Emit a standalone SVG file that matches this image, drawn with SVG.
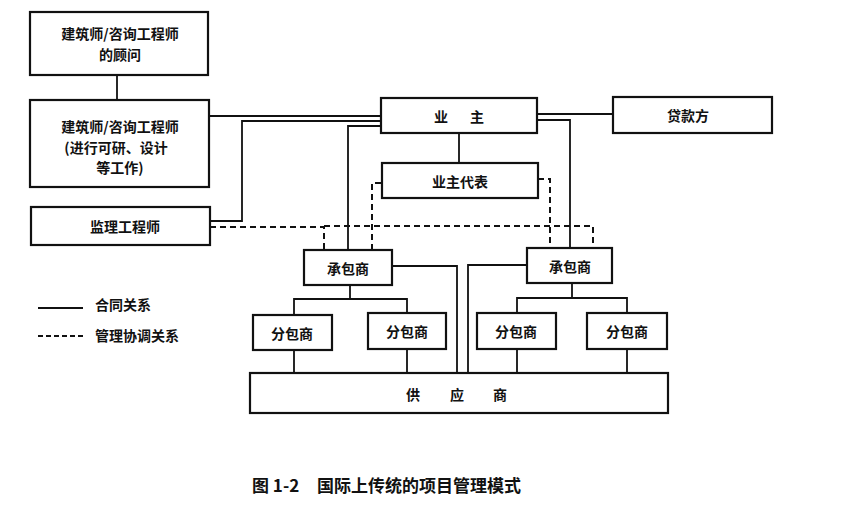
<svg xmlns="http://www.w3.org/2000/svg" width="844" height="506" viewBox="0 0 844 506">
<style>
.box{fill:#fff;stroke:#111;stroke-width:2.2}
.ln{fill:none;stroke:#111;stroke-width:1.8}
.ds{fill:none;stroke:#111;stroke-width:2;stroke-dasharray:6 4}
text{font-family:"Noto Sans CJK SC","Noto Sans CJK JP",sans-serif;font-weight:bold;font-size:14px;fill:#111;text-anchor:middle;dominant-baseline:central}
.lg{text-anchor:start}
.cap{font-size:17px;text-anchor:start}
</style>
<rect width="844" height="506" fill="#fff"/>
<g id="connectors">
<path class="ln" d="M117 75V100"/>
<path class="ln" d="M209 116H381"/>
<path class="ln" d="M210 221H242V121H381"/>
<path class="ln" d="M348 250V126H381"/>
<path class="ln" d="M537 114H613"/>
<path class="ln" d="M537 120H570V248"/>
<path class="ln" d="M459 133V163"/>
<path class="ds" d="M210 227H324V250"/>
<path class="ds" d="M324 226H593V248"/>
<path class="ds" d="M381 183H372V250"/>
<path class="ds" d="M538 179H550V248"/>
<path class="ln" d="M392 266H457V373"/>
<path class="ln" d="M527 265H468V373"/>
<path class="ln" d="M350 285V299M294 315V299H407V313"/>
<path class="ln" d="M572 283V298M517 313V298H627V313"/>
<path class="ln" d="M294 350V373M407 349V373M517 349V373M627 349V373"/>
</g>
<g id="n-adviser"><rect class="box" x="30" y="12" width="178" height="63"/><text x="120" y="33">建筑师/咨询工程师</text><text x="120" y="54">的顾问</text></g>
<g id="n-architect"><rect class="box" x="30" y="100" width="179" height="87"/><text x="120" y="126">建筑师/咨询工程师</text><text x="116" y="147">(进行可研、设计</text><text x="120" y="167">等工作)</text></g>
<g id="n-supervisor"><rect class="box" x="31" y="207" width="179" height="38"/><text x="125" y="226">监理工程师</text></g>
<g id="n-owner"><rect class="box" x="381" y="98" width="156" height="35"/><text x="441 477" y="116">业主</text></g>
<g id="n-lender"><rect class="box" x="613" y="97" width="159" height="36"/><text x="688" y="115">贷款方</text></g>
<g id="n-ownerrep"><rect class="box" x="382" y="163" width="156" height="35"/><text x="460" y="181">业主代表</text></g>
<g id="n-contractor1"><rect class="box" x="304" y="250" width="88" height="35"/><text x="348" y="268">承包商</text></g>
<g id="n-contractor2"><rect class="box" x="527" y="248" width="85" height="35"/><text x="570" y="266">承包商</text></g>
<g id="n-sub1"><rect class="box" x="253" y="315" width="79" height="35"/><text x="292" y="333">分包商</text></g>
<g id="n-sub2"><rect class="box" x="368" y="313" width="78" height="36"/><text x="407" y="331">分包商</text></g>
<g id="n-sub3"><rect class="box" x="477" y="313" width="79" height="36"/><text x="516" y="331">分包商</text></g>
<g id="n-sub4"><rect class="box" x="587" y="313" width="80" height="36"/><text x="627" y="331">分包商</text></g>
<g id="n-supplier"><rect class="box" x="250" y="373" width="418" height="40"/><text x="413 457 500" y="394">供应商</text></g>
<g id="legend">
<path class="ln" d="M38 308H83"/><text class="lg" x="95" y="304">合同关系</text>
<path class="ds" d="M38 336H83" style="stroke-dasharray:5 3"/><text class="lg" x="95" y="335">管理协调关系</text>
</g>
<text class="cap" x="252" y="484">图 1-2</text>
<text class="cap" x="317" y="484">国际上传统的项目管理模式</text>
</svg>
